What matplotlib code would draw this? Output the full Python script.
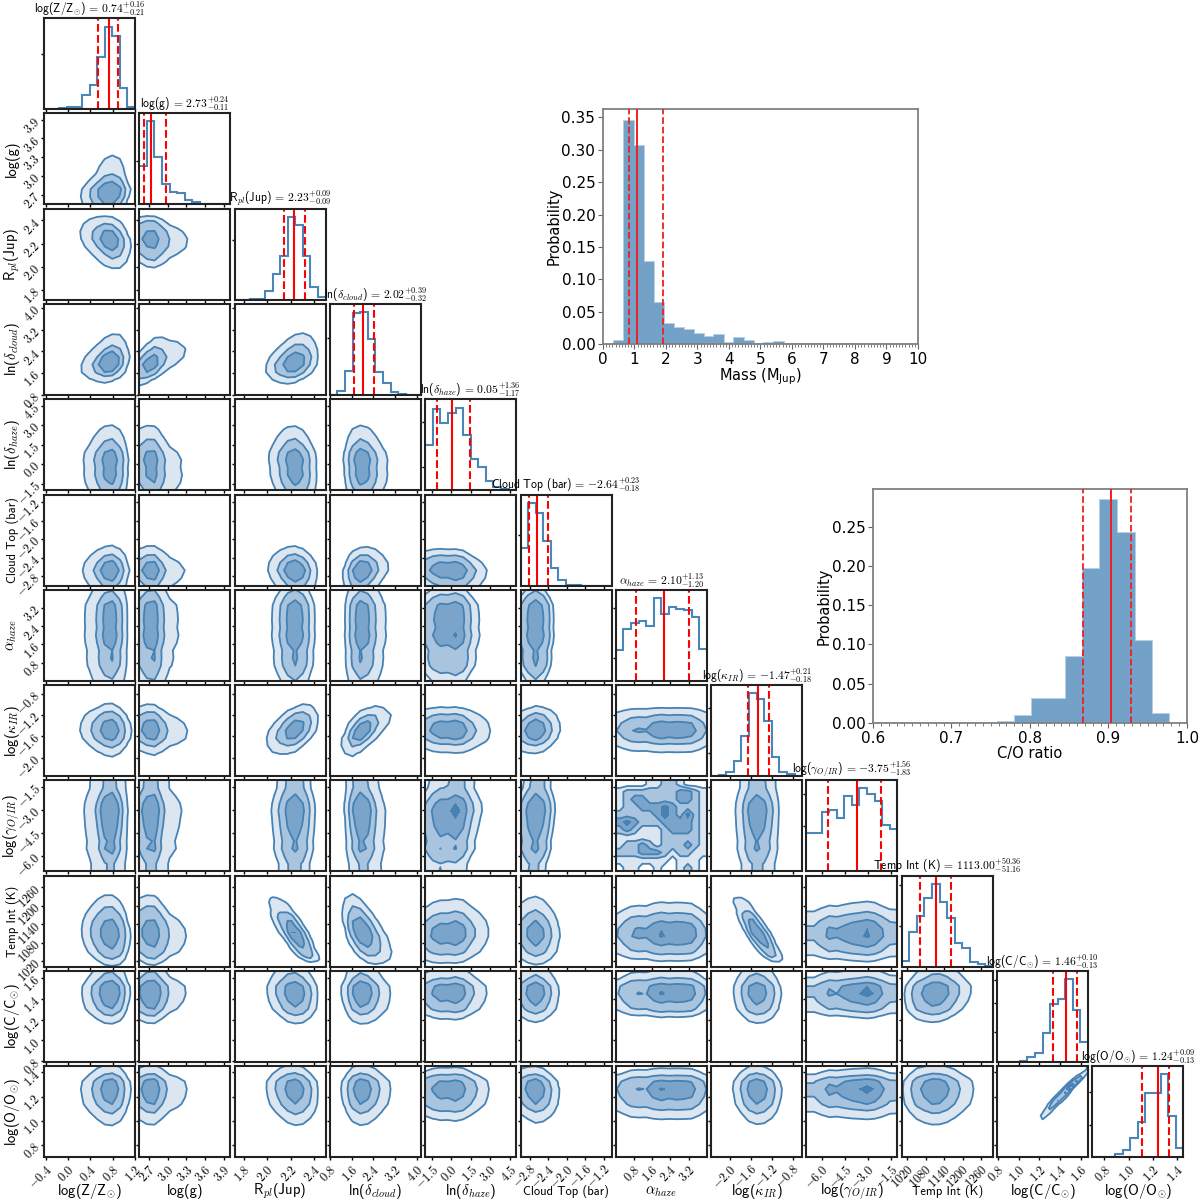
import numpy as np
import matplotlib
matplotlib.use("Agg")
import matplotlib.pyplot as plt
from statistics import NormalDist

plt.rcParams['mathtext.fontset'] = 'cm'
SERIF_SANS = 'cmss10'
plt.rcParams['axes.unicode_minus'] = False

LABELS = [r'log(Z/Z$_{\odot}$)', 'log(g)', r'R$_{pl}$(Jup)',
          r'ln($\delta_{cloud}$)', r'ln($\delta_{haze}$)', 'Cloud Top (bar)',
          r'$\alpha_{haze}$', r'log($\kappa_{IR}$)', r'log($\gamma_{O/IR}$)',
          'Temp Int (K)', r'log(C/C$_{\odot}$)', r'log(O/O$_{\odot}$)']
MEDIANS = [0.74, 2.73, 2.23, 2.02, 0.05, -2.64, 2.10, -1.47, -3.75, 1113.00, 1.46, 1.24]
ERR_UP = [0.16, 0.24, 0.09, 0.39, 1.36, 0.23, 1.13, 0.21, 1.56, 50.36, 0.10, 0.09]
ERR_DN = [0.21, 0.11, 0.09, 0.32, 1.17, 0.18, 1.20, 0.18, 1.83, 51.16, 0.13, 0.13]
RANGES = [(-0.43, 1.2), (2.55, 4.0), (1.72, 2.5), (0.8, 4.15), (-2.0, 5.0), (-3.0, -1.03),
          (0.0, 4.0), (-2.35, -0.63), (-7.0, -1.1), (1002, 1298), (0.79, 1.67), (0.70, 1.45)]
TICKS = [[-0.4, 0.0, 0.4, 0.8, 1.2], [2.7, 3.0, 3.3, 3.6, 3.9], [1.8, 2.0, 2.2, 2.4],
         [0.8, 1.6, 2.4, 3.2, 4.0], [-1.5, 0.0, 1.5, 3.0, 4.5], [-2.8, -2.4, -2.0, -1.6, -1.2],
         [0.8, 1.6, 2.4, 3.2], [-2.0, -1.6, -1.2, -0.8], [-6.0, -4.5, -3.0, -1.5],
         [1020, 1080, 1140, 1200, 1260], [0.8, 1.0, 1.2, 1.4, 1.6], [0.8, 1.0, 1.2, 1.4]]

H_Z = [0, 0.003, 0.01, 0.02, 0.02, 0.15, 0.26, 0.57, 0.90, 0.80, 0.235, 0.02]
H_G = [0.42, 0.91, 0.52, 0.22, 0.14, 0.12, 0.05, 0.02, 0.007, 0.004, 0.002, 0.001]
H_R = [0, 0, 0.003, 0.01, 0.09, 0.28, 0.48, 0.905, 0.82, 0.48, 0.135, 0.025]
H_CLOUD = [0, 0.044, 0.265, 0.90, 0.91, 0.61, 0.25, 0.135, 0.033, 0.015, 0.004, 0.001]
H_HAZE = [0.50, 0.89, 0.735, 0.85, 0.905, 0.605, 0.34, 0.26, 0.10, 0.03, 0.008, 0.002]
H_TOP = [0.41, 0.91, 0.80, 0.49, 0.19, 0.055, 0.01, 0.003, 0, 0, 0, 0]
H_ALPHA = [0.34, 0.57, 0.635, 0.66, 0.60, 0.91, 0.73, 0.81, 0.79, 0.775, 0.705, 0.345]
H_KAPPA = [0, 0.01, 0.04, 0.165, 0.44, 0.91, 0.85, 0.61, 0.21, 0.045, 0.02, 0.005]
H_GAMMA = [0.42, 0.42, 0.65, 0.68, 0.585, 0.825, 0.73, 0.915, 0.85, 0.77, 0.505, 0.47]
H_T = [0.06, 0.38, 0.56, 0.76, 0.91, 0.71, 0.54, 0.255, 0.20, 0.05, 0.03, 0.008]
H_C = [0, 0, 0.003, 0.007, 0.05, 0.10, 0.32, 0.64, 0.69, 0.915, 0.57, 0.22]
H_O = [0, 0, 0.003, 0.035, 0.075, 0.21, 0.39, 0.71, 0.71, 0.91, 0.455, 0.10]
HISTS = [H_Z, H_G, H_R, H_CLOUD, H_HAZE, H_TOP, H_ALPHA, H_KAPPA, H_GAMMA, H_T, H_C, H_O]
DIAG_YTICKS = [[0.6], [0.48], [0.65], [0.63], [0.25, 0.75], [0.55], [0.25, 0.8], [0.25, 0.75], [0.5, 0.85], [0.45, 0.9], [0.33, 0.65, 0.9], [0.35, 0.72]]

RHO = [[],
       [0.15],
       [-0.3, -0.1],
       [0.3, 0.6, 0.35],
       [0.0, -0.1, -0.1, -0.05],
       [0.0, -0.05, -0.1, 0.2, -0.1],
       [0.0, 0.0, 0.0, 0.0, 0.0, 0.0],
       [-0.05, -0.1, 0.5, 0.65, -0.05, 0.1, 0.0],
       [0.0, 0.0, 0.0, -0.1, 0.1, 0.1, 0.0, 0.0],
       [-0.1, -0.1, -0.8, -0.6, 0.05, -0.05, 0.0, -0.85, 0.0],
       [0.0, 0.0, -0.1, -0.05, 0.0, 0.0, 0.0, -0.05, 0.0, 0.1],
       [0.0, 0.0, -0.1, 0.0, 0.0, -0.1, 0.0, -0.05, 0.0, 0.0, 0.98]]
MASS_LEVELS = [0.90, 0.68, 0.33, 0.025]
FILLS = ['#dbe6f1', '#a9c4de', '#7ba4ca', '#4682b4']

# contour band per coarse cell of the gamma / alpha panel, bottom row first
GAMMA_ALPHA_CELLS = [[0, 1, 1, 0, 0, 1, 0, 0, 1, 2, 1, 0],
                     [1, 1, 1, 1, 1, 1, 1, 0, 1, 1, 1, 0],
                     [2, 2, 2, 3, 3, 3, 2, 1, 2, 2, 1, 1],
                     [1, 2, 2, 3, 2, 1, 2, 2, 2, 3, 2, 1],
                     [1, 1, 1, 1, 1, 1, 2, 2, 2, 2, 2, 1],
                     [2, 3, 2, 1, 1, 1, 2, 3, 3, 3, 2, 1],
                     [3, 4, 3, 2, 2, 2, 3, 3, 3, 3, 2, 1],
                     [2, 2, 2, 2, 2, 3, 4, 3, 2, 4, 2, 1],
                     [1, 2, 2, 3, 3, 3, 4, 3, 2, 2, 2, 1],
                     [1, 2, 3, 3, 2, 2, 2, 2, 3, 3, 2, 1],
                     [1, 2, 2, 2, 2, 2, 2, 2, 3, 3, 2, 1],
                     [0, 0, 0, 0, 1, 1, 2, 2, 1, 0, 0, 0]]

MASS_START, MASS_WIDTH = 0.337, 0.3175
MASS_P = [0.005, 0.345, 0.306, 0.126, 0.064, 0.031, 0.024, 0.022, 0.016, 0.0105, 0.014, 0.002,
          0.009, 0.004, 0.0005, 0.001, 0.0035, 0.0003, 0.0003, 0.0002, 0.0002, 0.0002, 0.0005, 0.0005]
MASS_LINES = [0.82, 1.08, 1.90]
CO_START, CO_WIDTH = 0.7588, 0.0218
CO_P = [0.0015, 0.0095, 0.031, 0.0305, 0.084, 0.196, 0.284, 0.242, 0.105, 0.012]
CO_LINES = [0.867, 0.903, 0.929]

W, H = 1200, 1202
fig = plt.figure(figsize=(W / 100, H / 100), dpi=100)
BLUE = '#4682b4'
N = len(LABELS)
inv = np.vectorize(NormalDist().inv_cdf)


def panel(i, j):
    left = 44 + 95.3 * i
    top = 18 + 95.3 * j
    ax = fig.add_axes([left / W, 1 - (top + 91) / H, 91 / W, 91 / H])
    for s in ax.spines.values():
        s.set_linewidth(1.5)
        s.set_color('#222222')
    ax.tick_params(length=2.5, width=1.0, pad=1.5, labelsize=9)
    return ax


def marginal(k, n=13):
    lo, hi = RANGES[k]
    e = np.linspace(lo, hi, 13)
    c = 0.5 * (e[:-1] + e[1:])
    x = np.linspace(lo, hi, n)
    p = np.interp(x, c, HISTS[k]) + 1e-4
    cdf = (np.cumsum(p) - 0.5 * p) / p.sum()
    return x, p, inv(np.clip(cdf, 1e-4, 1 - 1e-4))


def fmt(v):
    return f'{v:.1f}' if not float(v).is_integer() or abs(v) < 100 else f'{int(v)}'


def mlab(v):
    return '$' + fmt(v) + '$'


def label_size(text):
    return 9.0 if ' ' in text else 10.5


for j in range(N):
    for i in range(j + 1):
        ax = panel(i, j)
        ax.set_xlim(*RANGES[i])
        ax.set_xticks(TICKS[i])
        if i == j:
            e = np.linspace(*RANGES[i], 13)
            ax.stairs(HISTS[i], e, color='#4a86b8', lw=1.5, baseline=None)
            ax.set_ylim(0, 1)
            ax.set_yticks(DIAG_YTICKS[i])
            ax.set_yticklabels([])
            m = MEDIANS[i]
            ax.axvline(m, color='red', lw=1.5)
            ax.axvline(m - ERR_DN[i], color='red', lw=1.5, ls='--')
            ax.axvline(m + ERR_UP[i], color='red', lw=1.5, ls='--')
            med = f'{{-}}{abs(MEDIANS[i]):.2f}' if MEDIANS[i] < 0 else f'{MEDIANS[i]:.2f}'
            ax.set_title(LABELS[i] + rf'$\,=\,{med}^{{+{ERR_UP[i]:.2f}}}_{{-{ERR_DN[i]:.2f}}}$',
                         fontsize=8.4, pad=1.5, family=SERIF_SANS)
        else:
            ax.set_ylim(*RANGES[j])
            ax.set_yticks(TICKS[j])
            if (i, j) == (6, 8):
                ce = np.linspace(*RANGES[i], 13)
                re = np.linspace(*RANGES[j], 13)
                cc = np.r_[ce[0], 0.5 * (ce[:-1] + ce[1:]), ce[-1]]
                rc = np.r_[re[0], 0.5 * (re[:-1] + re[1:]), re[-1]]
                X, Y = np.meshgrid(cc, rc)
                dens = np.pad(np.array(GAMMA_ALPHA_CELLS, dtype=float), 1, mode='edge')
                lev = [0.5, 1.5, 2.5, 3.5]
            else:
                r = RHO[j][i]
                n = 25 if abs(r) > 0.7 else 13
                xs, px, zx = marginal(i, n)
                ys, py, zy = marginal(j, n)
                ZX, ZY = np.meshgrid(zx, zy)
                dens = np.outer(py, px) * np.exp(-(r ** 2 * (ZX ** 2 + ZY ** 2) - 2 * r * ZX * ZY) / (2 * (1 - r ** 2)))
                s = np.sort(dens.ravel())[::-1]
                cum = np.cumsum(s) / s.sum()
                lev = [s[np.searchsorted(cum, f)] for f in MASS_LEVELS]
                for a in range(1, 4):
                    if lev[a] <= lev[a - 1]:
                        lev[a] = lev[a - 1] * 1.001
                X, Y = np.meshgrid(xs, ys)
            ax.contourf(X, Y, dens, levels=list(lev) + [dens.max() * 1.01], colors=FILLS)
            ax.contour(X, Y, dens, levels=lev[:3], colors=BLUE, linewidths=1.3)
            if i == 0:
                ax.set_yticklabels([mlab(v) for v in TICKS[j]], rotation=45, ha='right', va='center',
                                   rotation_mode='anchor')
                ax.text(-0.35, 0.5, LABELS[j], transform=ax.transAxes, rotation=90, ha='center', va='center',
                        fontsize=label_size(LABELS[j]), family=SERIF_SANS)
            else:
                ax.set_yticklabels([])
        if j == N - 1:
            ax.set_xticklabels([mlab(v) for v in TICKS[i]], rotation=45, ha='right', va='top', rotation_mode='anchor')
            ax.text(0.5, -0.375, LABELS[i], transform=ax.transAxes, ha='center', va='center',
                    fontsize=label_size(LABELS[i]), family=SERIF_SANS)
        else:
            ax.set_xticklabels([])


def side(box, start, width, vals, lines, xlim, ylim, yticks, xticks, minor, xlabel):
    l, t, r, b = box
    ax = fig.add_axes([l / W, 1 - b / H, (r - l) / W, (b - t) / H])
    edges = start + width * np.arange(len(vals))
    ax.bar(edges, vals, width=width, align='edge', color='#73a1c7', edgecolor='#b5cee3', linewidth=1.4, zorder=1)
    ax.bar(edges, vals, width=width, align='edge', color='#73a1c7', linewidth=0, zorder=1.5)
    ax.axvline(lines[1], color='#ee2020', lw=1.4, zorder=3)
    ax.axvline(lines[0], color='#ee2020', lw=1.3, ls='--', zorder=3)
    ax.axvline(lines[2], color='#ee2020', lw=1.3, ls='--', zorder=3)
    ax.set_xlim(*xlim)
    ax.set_ylim(*ylim)
    ax.set_xticks(xticks)
    ax.set_yticks(yticks)
    ax.set_xticks(minor, minor=True)
    ax.tick_params(which='major', length=3.5, labelsize=11, pad=2, color='#666666')
    ax.tick_params(which='minor', length=1.8, color='#666666')
    ax.set_yticklabels([f'{v:.2f}' for v in yticks])
    for s in ax.spines.values():
        s.set_color('#808080')
        s.set_linewidth(1.3)
    ax.set_xlabel(xlabel, fontsize=10.5, labelpad=0, math_fontfamily='dejavusans')
    ax.set_ylabel('Probability', fontsize=10.5, labelpad=0)
    return ax


side((603, 109, 918, 344), MASS_START, MASS_WIDTH, MASS_P, MASS_LINES, (0, 10), (0, 0.363),
     [0, .05, .1, .15, .2, .25, .3, .35], list(range(11)), np.arange(0, 10.01, 0.1),
     r'Mass (M$_{\mathrm{Jup}}$)')
side((873, 489, 1187, 723), CO_START, CO_WIDTH, CO_P, CO_LINES, (0.6, 1.0), (0, 0.298),
     [0, .05, .1, .15, .2, .25], [0.6, 0.7, 0.8, 0.9, 1.0], np.arange(0.6, 1.001, 0.01),
     'C/O ratio')

fig.savefig('out.png', dpi=100)
